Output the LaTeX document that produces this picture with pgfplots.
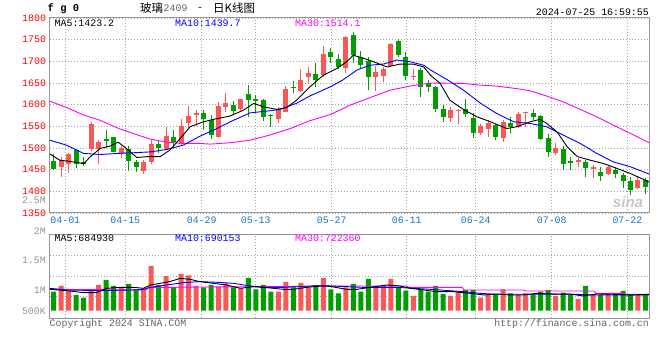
\documentclass[border=0pt]{standalone}
\usepackage{pgfplots}
\pgfplotsset{compat=1.18}
\usepackage{pgfplotstable}
\usepackage{fontspec}
\setmainfont{Liberation Mono}
\newfontfamily\cjk{Noto Sans CJK SC}
\newfontfamily\sinafont{Liberation Sans}
\definecolor{kred}{RGB}{250,88,88}
\definecolor{kgreen}{RGB}{0,158,0}
\definecolor{gridc}{RGB}{165,165,165}
\definecolor{axc}{RGB}{150,150,150}
\definecolor{datec}{RGB}{20,120,200}
\definecolor{maten}{RGB}{0,0,255}
\definecolor{mathirty}{RGB}{255,0,255}
\definecolor{labgray}{RGB}{150,150,150}
\definecolor{copyc}{RGB}{100,100,100}
\newcommand\fs{\fontsize{9.9bp}{11bp}\selectfont}

% k O H L C V  (V = volume, millions)
\pgfplotstableread{
k O H L C V
1 1457 1480 1434 1472 1.067
2 1464 1489 1443 1486 0.989
5 1497 1560 1493 1556 0.989
6 1497 1518 1463 1513 1.083
9 1487 1504 1476 1499 1.044
12 1447 1472 1441 1467 1.028
13 1468 1518 1463 1510 1.400
15 1497 1549 1495 1527 1.233
17 1509 1567 1506 1551 1.267
18 1557 1597 1545 1574 1.244
19 1577 1588 1550 1580 1.067
22 1526 1607 1524 1597 1.056
23 1595 1626 1582 1604 1.111
25 1589 1614 1584 1612 1.028
30 1567 1594 1557 1588 0.972
31 1584 1642 1583 1636 1.133
33 1632 1682 1630 1657 1.117
34 1663 1688 1649 1674 1.044
36 1668 1735 1663 1717 1.200
39 1684 1758 1672 1757 1.044
43 1664 1689 1632 1676 1.067
44 1667 1688 1653 1682 1.083
45 1689 1743 1688 1741 1.183
48 1664 1682 1658 1666 0.900
53 1569 1595 1561 1587 0.900
54 1585 1591 1555 1587 0.972
57 1535 1555 1530 1551 0.872
58 1544 1564 1526 1557 0.917
60 1524 1564 1514 1561 1.011
62 1548 1584 1545 1578 0.917
63 1581 1584 1549 1583 0.944
67 1489 1512 1483 1501 0.900
70 1468 1476 1455 1472 0.850
72 1452 1460 1431 1455 0.928
74 1440 1461 1437 1457 0.944
78 1407 1435 1406 1426 0.917
}\redtab

\pgfplotstableread{
k O H L C V
0 1470 1486 1450 1451 0.972
3 1495 1497 1454 1464 0.917
4 1467 1480 1458 1463 0.872
7 1520 1541 1499 1517 1.167
8 1525 1526 1490 1491 1.067
10 1497 1504 1447 1470 1.100
11 1467 1473 1445 1457 1.000
14 1509 1518 1489 1499 1.083
16 1526 1541 1503 1514 1.044
20 1580 1588 1541 1567 1.044
21 1564 1577 1520 1530 1.083
24 1599 1609 1578 1586 1.044
26 1624 1645 1572 1611 1.200
27 1612 1622 1584 1609 1.011
28 1611 1614 1563 1572 1.083
29 1575 1578 1548 1573 0.972
32 1641 1655 1626 1638 1.044
35 1671 1697 1641 1657 1.078
37 1721 1730 1697 1709 1.011
38 1705 1716 1682 1687 0.944
40 1761 1768 1695 1714 1.100
41 1709 1724 1684 1691 0.972
42 1701 1711 1634 1663 1.183
46 1747 1751 1709 1714 1.044
47 1709 1721 1657 1667 0.989
49 1680 1684 1618 1641 1.011
50 1649 1657 1630 1640 0.972
51 1641 1643 1584 1591 1.067
52 1589 1600 1560 1572 0.933
55 1589 1614 1572 1578 1.000
56 1570 1580 1524 1534 1.000
59 1553 1555 1518 1526 0.928
61 1558 1572 1534 1548 0.944
64 1581 1591 1564 1572 0.928
65 1573 1576 1518 1521 0.972
66 1524 1533 1480 1491 1.000
68 1497 1504 1450 1462 0.956
69 1470 1480 1449 1465 0.917
71 1468 1472 1433 1454 1.067
73 1445 1457 1424 1435 0.917
75 1449 1453 1430 1440 0.933
76 1438 1443 1408 1424 0.983
77 1423 1433 1391 1403 0.917
79 1426 1430 1393 1411 0.917
}\greentab

\pgfplotsset{
  kpanel/.style={
    anchor=south west, scale only axis, width=599bp,
    xmin=-0.494, xmax=79.47,
    axis line style={draw=axc, line width=1bp},
    major tick length=0pt,
    grid=major,
    major grid style={draw=gridc, line width=0.8bp, dash pattern=on 1bp off 2bp},
    xtick={1.549,9.56,19.76,26.97,37.12,47.13,56.34,66.49,76.58},
    tick label style={font=\fs},
  },
}

\begin{document}
\begin{tikzpicture}
\path[use as bounding box] (0bp,0bp) rectangle (660bp,360bp);
\fill[white] (0bp,0bp) rectangle (660bp,360bp);

% ---------- price panel ----------
\begin{axis}[kpanel, at={(50bp,147bp)}, height=195bp,
  ymin=1350, ymax=1800,
  ytick={1350,1400,1450,1500,1550,1600,1650,1700,1750,1800},
  yticklabels={1350,1400,1450,1500,1550,1600,1650,1700,1750,1800},
  yticklabel style={text=red, xshift=-0.5bp},
  xticklabels={04-01,04-15,04-29,05-13,05-27,06-11,06-24,07-08,07-22},
  xticklabel style={text=datec},
]
% wicks
\addplot[draw=none, mark=none, forget plot, error bars/.cd, y dir=plus, y explicit, error mark=none,
  error bar style={draw=kred, line width=1bp}]
  table[x=k, y=L, y error plus expr={\thisrow{H}-\thisrow{L}}] {\redtab};
\addplot[draw=none, mark=none, forget plot, error bars/.cd, y dir=plus, y explicit, error mark=none,
  error bar style={draw=kgreen, line width=1bp}]
  table[x=k, y=L, y error plus expr={\thisrow{H}-\thisrow{L}}] {\greentab};
% bodies
\addplot[draw=none, mark=none, forget plot, error bars/.cd, y dir=plus, y explicit, error mark=none,
  error bar style={draw=kred, line width=5bp}]
  table[x=k, y=O, y error plus expr={max(\thisrow{C}-\thisrow{O},2.5)}] {\redtab};
\addplot[draw=none, mark=none, forget plot, error bars/.cd, y dir=plus, y explicit, error mark=none,
  error bar style={draw=kgreen, line width=5bp}]
  table[x=k, y=C, y error plus expr={max(\thisrow{O}-\thisrow{C},2.5)}] {\greentab};
% MA30
\addplot[mathirty, line width=0.9bp, mark=none] coordinates {
(-0.5,1608)(1.7,1593.5)(4,1576)(6.2,1564)(8.4,1547)(10.6,1533.5)(12.9,1520.5)(15.1,1513.5)(17.3,1510.5)(19.5,1510.5)(20.9,1509)(22.2,1510.5)(23.5,1512)(26.2,1518)(28.9,1530)(31.6,1545)(34.2,1563)(36.9,1577)(39.6,1599)(42.2,1616)(44.9,1633.5)(47.6,1643)(50.3,1650)(54.7,1649)(57,1645)(59.1,1643)(61.8,1637)(63.6,1632)(65.8,1620)(68,1606.6)(70.3,1589)(72.5,1572)(74.7,1553)(77,1533.5)(79.5,1512)};
% MA10
\addplot[maten, line width=0.9bp, mark=none] coordinates {
(-0.5,1518)(1.7,1506.6)(4,1487.4)(6.2,1485)(8.4,1487.4)(10.6,1489)(12.9,1491)(15.1,1496.6)(17.3,1506.6)(19.5,1527)(21.8,1545)(23.5,1560)(26.2,1581)(28.9,1586)(30.2,1589)(32.4,1603)(34.2,1620)(36.9,1641)(38.6,1657)(40.5,1680)(42.2,1691)(44.1,1694)(45.8,1703)(47.6,1699)(49.4,1691)(50.3,1680)(52.5,1658)(54.7,1633.5)(57,1603)(59.1,1580)(61.4,1560.5)(63.6,1556.6)(65.8,1549)(68,1530)(70.3,1510.5)(72.5,1487.4)(74.7,1468)(77,1456.6)(79.5,1439.7)};
% MA5
\addplot[black, line width=0.9bp, mark=none] coordinates {
(-0.5,1486)(0.8,1472)(2.6,1468)(4,1464)(4.9,1480)(6.2,1499)(7.5,1504.5)(8.6,1513.5)(9.7,1499)(11.1,1478)(12.4,1480)(14.2,1480)(15.5,1495)(16.9,1522)(18.2,1549)(20,1560.5)(21.3,1566)(23.5,1573.5)(25.3,1587)(26.7,1603)(28,1595)(29.8,1589)(31.1,1593.5)(32.4,1610)(34.2,1641)(36,1668)(37.8,1683.5)(39.1,1699)(40,1714)(41.4,1707)(42.7,1699)(44.5,1687)(46.2,1693.5)(48,1693.5)(49.4,1687)(50.3,1668)(51.6,1649)(52.9,1610)(54.7,1589)(56.5,1572)(58.3,1560.5)(60.5,1545)(61.8,1549)(63.6,1560.5)(64.9,1566)(65.8,1557)(67.2,1537)(68.5,1504)(69.9,1480)(71.6,1472)(73.4,1464)(75.2,1453)(77,1441)(78.8,1427)(79.5,1421)};
\end{axis}

% ---------- volume panel ----------
\begin{axis}[kpanel, at={(50bp,41.7bp)}, height=84bp,
  ymin=-0.127, ymax=1.273,
  ytick={0.233,0.578,0.928}, yticklabels={},
  xticklabels={},
  y filter/.expression={y-0.655},
]
\addplot[ybar, bar width=5bp, bar shift=0pt, fill=kred, draw=none, forget plot]
  table[x=k, y=V] {\redtab};
\addplot[ybar, bar width=5bp, bar shift=0pt, fill=kgreen, draw=none, forget plot]
  table[x=k, y=V] {\greentab};
\addplot[mathirty, line width=0.9bp, mark=none] coordinates {
(-0.5,1.011)(12.3,1.0)(12.6,1.039)(20,1.05)(30,1.056)(36.9,1.067)(47.1,1.067)(47.4,1.044)(54.5,1.044)(54.8,1.0)(62.7,1.0)(63,0.983)(72.1,0.983)(72.4,0.944)(76,0.944)(76.3,0.928)(79.5,0.928)};
\addplot[maten, line width=0.9bp, mark=none] coordinates {
(-0.5,1.028)(1.7,1.0)(6.2,0.989)(10.6,1.0)(12,1.011)(12.9,1.044)(15.1,1.083)(17.3,1.122)(19.5,1.139)(21.8,1.128)(24,1.111)(26.2,1.067)(28.4,1.044)(30.7,1.044)(32.9,1.056)(35.1,1.072)(36.9,1.067)(41.3,1.044)(45.8,1.044)(48,1.028)(50.3,1.011)(54.7,0.972)(56.9,0.944)(59.1,0.928)(63.6,0.928)(68,0.933)(72.5,0.917)(79.5,0.917)};
\addplot[black, line width=0.9bp, mark=none] coordinates {
(-0.5,1.011)(1.7,0.989)(4,0.956)(5.7,0.956)(7.1,1.028)(8.9,1.044)(10.6,1.044)(12,1.028)(12.9,1.083)(14.2,1.111)(15.5,1.139)(16.9,1.194)(18.2,1.178)(19.5,1.139)(21.3,1.111)(23.1,1.083)(24.9,1.028)(26.7,1.056)(28.4,1.039)(30.7,1.011)(32,1.011)(33.8,1.044)(35.6,1.067)(36.9,1.06)(39.1,1.011)(40.5,1.011)(42.2,1.044)(44.5,1.083)(46.2,1.067)(47.6,1.028)(49.4,1.0)(51.1,0.972)(53.4,0.972)(55.6,0.944)(57.4,0.917)(59.1,0.933)(60.9,0.917)(62.7,0.917)(64.5,0.944)(67.2,0.928)(68.9,0.933)(70.7,0.9)(72.5,0.933)(74.7,0.928)(76.9,0.917)(79.5,0.928)};
\end{axis}

% ---------- texts ----------
\begin{scope}[x=1bp,y=1bp]
\node[anchor=west, inner sep=0] at (47.5,351.5) {\fontsize{10.5bp}{12bp}\selectfont\bfseries f g 0};
\node[anchor=west, inner sep=0] at (140,351.5) {\cjk\fontsize{11.5bp}{13bp}\selectfont 玻璃};
\node[anchor=west, inner sep=0, text=copyc] at (163.5,351.5) {\fs 2409};
\node[anchor=west, inner sep=0] at (197,351.5) {\fs -};
\node[anchor=west, inner sep=0] at (213,351.5) {\cjk\fontsize{11.5bp}{13bp}\selectfont 日K线图};
\node[anchor=east, inner sep=0] at (649,347.7) {\fs 2024-07-25 16:59:55};

\node[anchor=west, inner sep=0] at (54.5,336.5) {\fs MA5:1423.2};
\node[anchor=west, inner sep=0, text=maten] at (175,336.5) {\fs MA10:1439.7};
\node[anchor=west, inner sep=0, text=mathirty] at (295,336.5) {\fs MA30:1514.1};

\node[anchor=west, inner sep=0] at (54.5,121.7) {\fs MA5:684930};
\node[anchor=west, inner sep=0, text=maten] at (175,121.7) {\fs MA10:690153};
\node[anchor=west, inner sep=0, text=mathirty] at (295,121.7) {\fs MA30:722360};

\node[anchor=east, inner sep=0, text=labgray] at (46,159.3) {\fs 2.5M};
\node[anchor=east, inner sep=0, text=labgray] at (46,129.3) {\fs 2M};
\node[anchor=east, inner sep=0, text=labgray] at (46,99.3) {\fs 1.5M};
\node[anchor=east, inner sep=0, text=labgray] at (46,70) {\fs 1M};
\node[anchor=east, inner sep=0, text=labgray] at (46,49) {\fs 500K};

\node[anchor=west, inner sep=0, text=copyc] at (49.5,36) {\fs Copyright 2024 SINA.COM};
\node[anchor=east, inner sep=0, text=copyc] at (649,36) {\fs http://finance.sina.com.cn};

\node[anchor=center, inner sep=0, text=black!22] at (628,158) {\sinafont\fontsize{15bp}{16bp}\selectfont\bfseries\itshape sina};
\end{scope}
\end{tikzpicture}
\end{document}
